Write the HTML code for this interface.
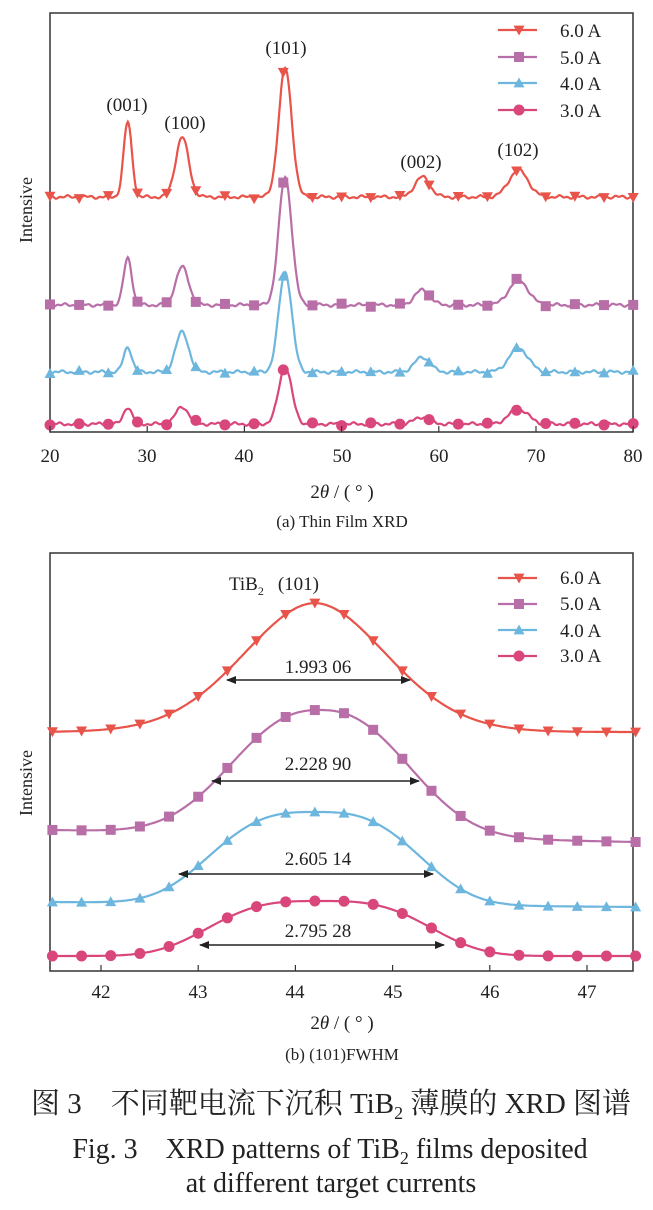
<!DOCTYPE html>
<html><head><meta charset="utf-8"><style>
html,body{margin:0;padding:0;background:#fff;}
svg{display:block}
text{font-family:"Liberation Serif","Noto Serif CJK SC",serif;fill:#222}
</style></head><body>
<svg id="s" width="653" height="1210" viewBox="0 0 653 1210" xmlns="http://www.w3.org/2000/svg">
<defs>
<marker id="ah" markerWidth="10" markerHeight="8" refX="9" refY="4" orient="auto-start-reverse" markerUnits="userSpaceOnUse"><path d="M0,0 L10,4 L0,8 Z" fill="#222"/></marker>
</defs>
<rect x="50" y="13" width="583" height="419" fill="none" stroke="#333" stroke-width="1.5"/>
<g id="topc"></g>
<g font-size="19" text-anchor="middle">
<text x="50" y="462">20</text><text x="147" y="462">30</text><text x="244" y="462">40</text><text x="342" y="462">50</text><text x="439" y="462">60</text><text x="536" y="462">70</text><text x="633" y="462">80</text>
<text x="342" y="498">2<tspan font-style="italic">θ</tspan> / ( ° )</text>
<text x="342" y="527" font-size="17">(a) Thin Film XRD</text>
<text x="286" y="54">(101)</text><text x="127" y="111">(001)</text><text x="185" y="129">(100)</text><text x="421" y="168">(002)</text><text x="518" y="156">(102)</text>
</g>
<text transform="translate(32,210) rotate(-90)" font-size="18" text-anchor="middle">Intensive</text>
<rect x="50" y="553" width="583" height="418" fill="none" stroke="#333" stroke-width="1.5"/>
<g id="botc"></g>
<g font-size="19" text-anchor="middle">
<text x="101" y="998">42</text><text x="198" y="998">43</text><text x="295" y="998">44</text><text x="393" y="998">45</text><text x="490" y="998">46</text><text x="587" y="998">47</text>
<text x="342" y="1029">2<tspan font-style="italic">θ</tspan> / ( ° )</text>
<text x="342" y="1060" font-size="17">(b) (101)FWHM</text>
<text x="318" y="673">1.993 06</text><text x="318" y="770">2.228 90</text><text x="318" y="865">2.605 14</text><text x="318" y="937">2.795 28</text>
<text x="274" y="590">TiB<tspan font-size="12" dy="5">2</tspan><tspan dy="-5" dx="14">(101)</tspan></text>
</g>
<text transform="translate(32,783) rotate(-90)" font-size="18" text-anchor="middle">Intensive</text>
<g stroke="#222" stroke-width="1.5" marker-start="url(#ah)" marker-end="url(#ah)">
<line x1="227" y1="680" x2="410" y2="680"/><line x1="212" y1="781" x2="419" y2="781"/>
<line x1="179" y1="874" x2="433" y2="874"/><line x1="200" y1="945" x2="444" y2="945"/>
</g>
<g text-anchor="middle">
<text x="331" y="1113" font-size="29">图 3　不同靶电流下沉积 TiB<tspan font-size="18" dy="6">2</tspan><tspan dy="-6"> 薄膜的 XRD 图谱</tspan></text>
<text x="330" y="1158" font-size="28">Fig. 3　XRD patterns of TiB<tspan font-size="18" dy="6">2</tspan><tspan dy="-6"> films deposited</tspan></text>
<text x="331" y="1192" font-size="28">at different target currents</text>
</g>
<g font-size="19">
<text x="560" y="37">6.0 A</text><text x="560" y="64">5.0 A</text><text x="560" y="90">4.0 A</text><text x="560" y="117">3.0 A</text>
<text x="560" y="584">6.0 A</text><text x="560" y="610">5.0 A</text><text x="560" y="637">4.0 A</text><text x="560" y="662">3.0 A</text>
</g>
</svg>
<script>
var NS="http://www.w3.org/2000/svg";
var C=["#e8534a","#b86fa8","#6db6de","#d9467c"];
function el(p,t,a){var e=document.createElementNS(NS,t);for(var k in a)e.setAttribute(k,a[k]);p.appendChild(e);return e;}
function mark(g,type,x,y,c){
 var r=5.5;
 if(type==0)el(g,"path",{d:"M"+(x-r)+","+(y-r*0.8)+"L"+(x+r)+","+(y-r*0.8)+"L"+x+","+(y+r)+"Z",fill:c});
 else if(type==1)el(g,"rect",{x:x-5,y:y-5,width:10,height:10,fill:c});
 else if(type==2)el(g,"path",{d:"M"+(x-r)+","+(y+r*0.8)+"L"+(x+r)+","+(y+r*0.8)+"L"+x+","+(y-r)+"Z",fill:c});
 else el(g,"circle",{cx:x,cy:y,r:5.5,fill:c});
}
function gp(x,c,s,p){return Math.exp(-Math.pow(Math.abs((x-c)/s),p||2));}
var T=document.getElementById("topc");
var base=[197,305,372,424];
var pk=[[122,137,68,177,170],[258,267,177,290,280],[347,332,272,357,348],[407,407,367,417,409]];
var cen=[28,33.6,44.2,58.3,68.2],sig=[0.6,0.95,0.95,1.1,1.4];
function ty(i,x){var y=base[i];for(var j=0;j<5;j++)y-=(base[i]-pk[i][j])*gp(x,cen[j],sig[j]);y+=1.0*Math.sin(x*3.1+i)+0.8*Math.sin(x*7.7+2*i);return y;}
function tx(x){return 50+(x-20)*9.72;}
for(var i=0;i<4;i++){
 var d="";for(var x=20;x<=80.001;x+=0.1){d+=(d?"L":"M")+tx(x).toFixed(1)+","+ty(i,x).toFixed(1);}
 el(T,"path",{d:d,fill:"none",stroke:C[i],"stroke-width":2.2});
 for(var x=20;x<=80.001;x+=3)mark(T,i,tx(x),ty(i,x),C[i]);
 var ly=[30,57,83,110][i];el(T,"line",{x1:498,y1:ly,x2:537,y2:ly,stroke:C[i],"stroke-width":2.2});mark(T,i,519,ly,C[i]);
}
var B=document.getElementById("botc");
function bx(x){return 101+(x-42)*97.2;}
var bc=[[732,732,603,44.2,1.05,1.9],[830,842,710,44.25,1.15,2.4],[902,907,812,44.2,1.25,3],[956,956,901,44.25,1.3,3.2]];
function by(i,x){var p=bc[i];var b=p[0]+(p[1]-p[0])*(x-41.5)/6;return b-(b-p[2])*gp(x,p[3],p[4],p[5]);}
for(var i=0;i<4;i++){
 var d="";for(var x=41.5;x<=47.5001;x+=0.02){d+=(d?"L":"M")+bx(x).toFixed(1)+","+by(i,x).toFixed(1);}
 el(B,"path",{d:d,fill:"none",stroke:C[i],"stroke-width":2.2});
 for(var k=0;k<=20;k++){var x=41.5+k*0.3;mark(B,i,bx(x),by(i,x),C[i]);}
 var ly=[578,604,630,656][i];el(B,"line",{x1:498,y1:ly,x2:537,y2:ly,stroke:C[i],"stroke-width":2.2});mark(B,i,519,ly,C[i]);
}
for(var v=20;v<=80;v+=10){el(T,"line",{x1:tx(v),y1:432,x2:tx(v),y2:426,stroke:"#333","stroke-width":1.2});}
for(var v=42;v<=47;v++){el(B,"line",{x1:bx(v),y1:971,x2:bx(v),y2:965,stroke:"#333","stroke-width":1.2});}
</script>
</body></html>
